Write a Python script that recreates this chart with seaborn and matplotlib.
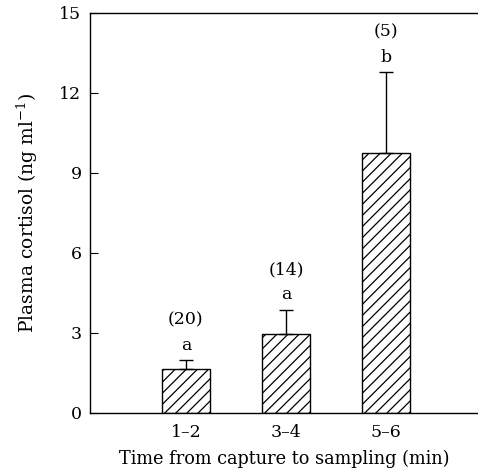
import matplotlib
matplotlib.use("Agg")
import matplotlib.pyplot as plt
import seaborn as sns
import pandas as pd

# data
groups = ["1–2", "3–4", "5–6"]
means = [1.63, 2.95, 9.76]
upper_err = [0.34, 0.92, 3.02]
sig_letters = ["a", "a", "b"]
n_labels = ["(20)", "(14)", "(5)"]

sns.set_style("ticks")
plt.rcParams["font.family"] = ["DejaVu Serif"]
plt.rcParams["mathtext.fontset"] = "dejavuserif"
plt.rcParams["hatch.linewidth"] = 0.9
plt.rcParams["text.color"] = "black"
plt.rcParams["axes.labelcolor"] = "black"
plt.rcParams["xtick.color"] = "black"
plt.rcParams["ytick.color"] = "black"

df = pd.DataFrame({"time": groups, "cortisol": means})

fig = plt.figure(figsize=(4.78, 4.74), dpi=100)
ax = fig.add_axes([0.188, 0.129, 0.812, 0.844])

sns.barplot(data=df, x="time", y="cortisol", color="white", edgecolor="black",
            linewidth=1.0, width=0.48, errorbar=None, ax=ax)
for p in ax.patches:
    p.set_hatch("///")

x = range(len(groups))
ax.errorbar(x, means, yerr=[[0] * len(means), upper_err], fmt="none",
            ecolor="black", elinewidth=1.0, capsize=5, capthick=1.0)

for i in x:
    top = means[i] + upper_err[i]
    ax.text(i, top + 0.55, sig_letters[i], ha="center", va="center", fontsize=12.5)
    ax.text(i, top + 1.5, n_labels[i], ha="center", va="center", fontsize=12.5)

ax.set_ylim(0, 15)
ax.set_xlim(-0.96, 2.92)
ax.set_yticks([0, 3, 6, 9, 12, 15])
ax.tick_params(axis="y", direction="in", length=6, width=0.8, labelsize=12.5, pad=6)
ax.tick_params(axis="x", length=0, labelsize=12.5, pad=8)
ax.spines["right"].set_visible(False)
for s in ["left", "top", "bottom"]:
    ax.spines[s].set_linewidth(1.0)
    ax.spines[s].set_color("black")

ax.set_xlabel("Time from capture to sampling (min)", fontsize=12.8, labelpad=6)
ax.set_ylabel("Plasma cortisol (ng ml$^{-1}$)", fontsize=13.5, labelpad=14)

fig.savefig("out.png", dpi=100)
